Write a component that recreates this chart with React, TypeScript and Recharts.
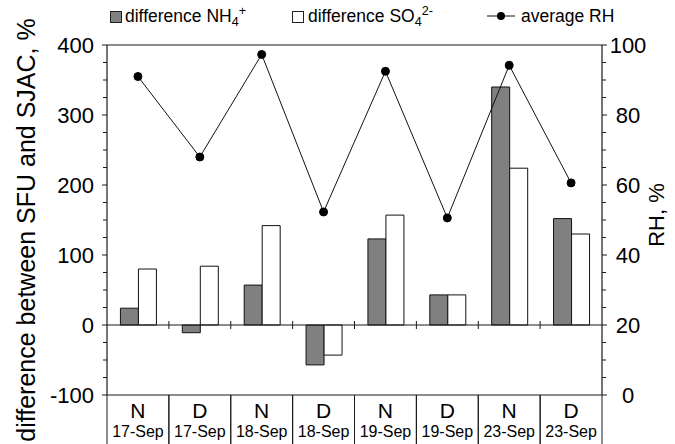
import React from 'react';
import { ComposedChart, Bar, Line, XAxis, YAxis, ReferenceLine } from 'recharts';

// ---- data ----
const periods = ['N', 'D', 'N', 'D', 'N', 'D', 'N', 'D'];
const dates = ['17-Sep', '17-Sep', '18-Sep', '18-Sep', '19-Sep', '19-Sep', '23-Sep', '23-Sep'];
const diffNH4 = [24, -11, 57, -57, 123, 43, 340, 152];
const diffSO4 = [80, 84, 142, -43, 157, 43, 224, 130];
const avgRH = [91, 68, 97.3, 52.3, 92.5, 50.6, 94.2, 60.6];
const leftTicks = [-100, -75, -50, -25, 0, 25, 50, 75, 100, 125, 150, 175, 200, 225, 250, 275, 300, 325, 350, 375, 400];
const rightTicks = [0, 5, 10, 15, 20, 25, 30, 35, 40, 45, 50, 55, 60, 65, 70, 75, 80, 85, 90, 95, 100];

const data = periods.map((p, i) => ({
  idx: i,
  period: p,
  date: dates[i],
  nh4: diffNH4[i],
  so4: diffSO4[i],
  rh: avgRH[i],
}));

// ---- layout ----
const W = 675;
const H = 444;
const TOP = 45;
const LEFT_W = 107;
const RIGHT_W = 73;
const X_H = 49;
const PLOT_W = W - LEFT_W - RIGHT_W;
const BAND = PLOT_W / periods.length;
const FONT = '"Liberation Sans", Arial, Helvetica, sans-serif';
const AX = '#1a1a1a';

const LeftTick = (props: any) => {
  const { x, y, payload } = props;
  const v = payload.value;
  const major = v % 100 === 0;
  return (
    <g>
      <line x1={x - (major ? 5 : 4)} x2={x} y1={y} y2={y} stroke={AX} strokeWidth={1} />
      {major && (
        <text x={x - 13} y={y} dy="0.36em" textAnchor="end" fontSize={22} fontFamily={FONT} fill="#000">
          {v}
        </text>
      )}
    </g>
  );
};

const RightTick = (props: any) => {
  const { x, y, payload } = props;
  const v = payload.value;
  const major = v % 20 === 0;
  return (
    <g>
      <line x1={x} x2={x + (major ? 5 : 4)} y1={y} y2={y} stroke={AX} strokeWidth={1} />
      {major && (
        <text x={x + 26} y={y} dy="0.36em" textAnchor="middle" fontSize={22} fontFamily={FONT} fill="#000">
          {v}
        </text>
      )}
    </g>
  );
};

const BottomTick = (props: any) => {
  const { x, y, payload } = props;
  const i = payload.value;
  const d = data[i];
  const l = x - BAND / 2;
  const r = x + BAND / 2;
  return (
    <g>
      <line x1={l} x2={l} y1={y} y2={H} stroke={AX} strokeWidth={1} />
      <line x1={r} x2={r} y1={y} y2={H} stroke={AX} strokeWidth={1} />
      <text x={x} y={y + 23} textAnchor="middle" fontSize={21} fontFamily={FONT} fill="#000">
        {d.period}
      </text>
      <text x={x} y={y + 42} textAnchor="middle" fontSize={16} fontFamily={FONT} fill="#000">
        {d.date}
      </text>
    </g>
  );
};

const ZeroLine = (props: any) => {
  const { x1, x2, y1 } = props;
  const ticks = periods.slice(1).map((_, i) => x1 + (i + 1) * ((x2 - x1) / periods.length));
  return (
    <g>
      <line x1={x1} x2={x2} y1={y1} y2={y1} stroke={AX} strokeWidth={1.2} />
      {ticks.map((tx, i) => (
        <line key={i} x1={tx} x2={tx} y1={y1 - 4} y2={y1 + 4} stroke={AX} strokeWidth={1} />
      ))}
    </g>
  );
};

const Sub = ({ children }: any) => (
  <span style={{ fontSize: '0.72em', position: 'relative', top: '0.35em' }}>{children}</span>
);
const Sup = ({ children }: any) => (
  <span style={{ fontSize: '0.72em', position: 'relative', top: '-0.55em' }}>{children}</span>
);

const boxStyle = (fill: string, left: number): React.CSSProperties => ({
  position: 'absolute',
  left,
  top: 7,
  width: 10,
  height: 10,
  background: fill,
  border: '1px solid #222',
});

export default function App() {
  return (
    <div style={{ position: 'absolute', left: 0, top: 0, width: W, height: H, background: '#fff', fontFamily: FONT }}>
      <ComposedChart
        width={W}
        height={H}
        data={data}
        margin={{ top: TOP, right: 0, bottom: 0, left: 0 }}
        barCategoryGap="21.7%"
        barGap={0}
      >
        <XAxis
          dataKey="idx"
          type="category"
          height={X_H}
          axisLine={{ stroke: AX, strokeWidth: 1.2 }}
          tickLine={false}
          tickSize={0}
          tickMargin={0}
          interval={0}
          tick={<BottomTick />}
        />
        <YAxis
          yAxisId="left"
          orientation="left"
          width={LEFT_W}
          domain={[-100, 400]}
          ticks={leftTicks}
          interval={0}
          allowDataOverflow
          axisLine={{ stroke: AX, strokeWidth: 1.2 }}
          tickLine={false}
          tickSize={0}
          tickMargin={0}
          tick={<LeftTick />}
          label={{
            content: () => (
              <text
                transform="translate(26,230) rotate(-90)"
                textAnchor="middle"
                dominantBaseline="central"
                fontSize={25}
                fontFamily={FONT}
                fill="#000"
              >
                difference between SFU and SJAC, %
              </text>
            ),
          }}
        />
        <YAxis
          yAxisId="right"
          orientation="right"
          width={RIGHT_W}
          domain={[0, 100]}
          ticks={rightTicks}
          interval={0}
          allowDataOverflow
          axisLine={{ stroke: AX, strokeWidth: 1.2 }}
          tickLine={false}
          tickSize={0}
          tickMargin={0}
          tick={<RightTick />}
          label={{
            content: () => (
              <text
                transform="translate(656,215) rotate(-90)"
                textAnchor="middle"
                dominantBaseline="central"
                fontSize={22}
                fontFamily={FONT}
                fill="#000"
              >
                RH, %
              </text>
            ),
          }}
        />
        <ReferenceLine yAxisId="left" y={400} stroke={AX} strokeWidth={1.2} />
        <Bar yAxisId="left" dataKey="nh4" fill="#808080" stroke="#111" strokeWidth={1} isAnimationActive={false} />
        <Bar yAxisId="left" dataKey="so4" fill="#ffffff" stroke="#111" strokeWidth={1} isAnimationActive={false} />
        <ReferenceLine yAxisId="left" y={0} shape={<ZeroLine />} />
        <Line
          yAxisId="right"
          dataKey="rh"
          stroke="#111"
          strokeWidth={1}
          dot={{ r: 4, fill: '#000', stroke: '#000', strokeWidth: 1 }}
          activeDot={false}
          isAnimationActive={false}
        />
      </ComposedChart>

      <div
        style={{
          position: 'absolute',
          top: 4,
          left: 0,
          width: W,
          height: 26,
          fontSize: 17.5,
          lineHeight: '24px',
          color: '#000',
          whiteSpace: 'nowrap',
        }}
      >
        <span style={boxStyle('#808080', 110)} />
        <span style={{ position: 'absolute', left: 125, top: 0 }}>
          difference NH<Sub>4</Sub>
          <Sup>+</Sup>
        </span>
        <span style={boxStyle('#ffffff', 292)} />
        <span style={{ position: 'absolute', left: 308, top: 0 }}>
          difference SO<Sub>4</Sub>
          <Sup>2-</Sup>
        </span>
        <svg width={30} height={12} style={{ position: 'absolute', left: 486, top: 6 }}>
          <line x1={1} x2={29} y1={6} y2={6} stroke="#111" strokeWidth={1} />
          <circle cx={15} cy={6} r={4} fill="#000" />
        </svg>
        <span style={{ position: 'absolute', left: 521, top: 0 }}>average RH</span>
      </div>
    </div>
  );
}
